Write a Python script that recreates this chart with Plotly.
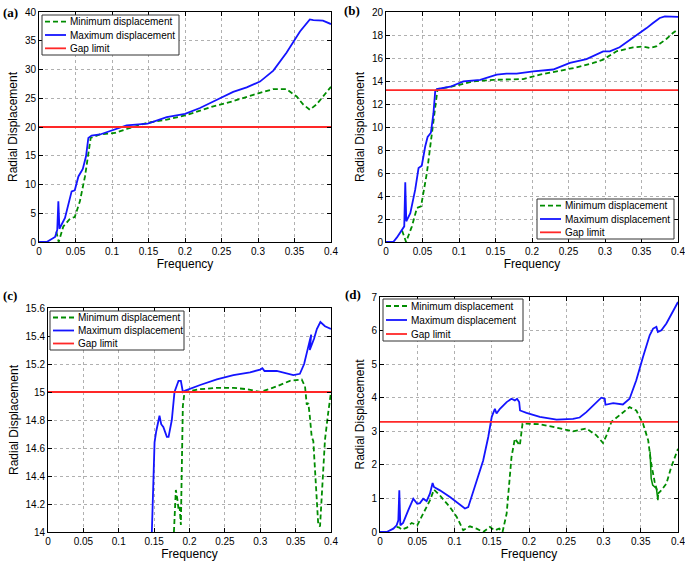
import plotly.graph_objects as go

# ---------------- data ----------------
xa_max = [0, 0.0105, 0.022, 0.025, 0.0265, 0.028, 0.0356, 0.0447, 0.049, 0.054, 0.06, 0.0644, 0.0676, 0.072,
          0.0836, 0.1018, 0.12, 0.149, 0.175, 0.2, 0.2205, 0.248, 0.266, 0.2845, 0.3027, 0.321, 0.339, 0.3575,
          0.371, 0.3758, 0.389, 0.4]
ya_max = [0, 0, 0.87, 2.1, 7.1, 2.3, 4.2, 8.8, 9.0, 11.4, 12.7, 14.9, 18.1, 18.5,
          18.7, 19.5, 20.3, 20.6, 21.7, 22.3, 23.3, 25.0, 26.1, 26.9, 27.9, 29.8, 32.9, 36.6,
          38.7, 38.6, 38.5, 37.9]
xa_min = [0.0237, 0.027, 0.0333, 0.0425, 0.049, 0.056, 0.063, 0.0708, 0.0836, 0.104, 0.12, 0.1475, 0.175, 0.2,
          0.2388, 0.266, 0.2936, 0.321, 0.339, 0.353, 0.362, 0.371, 0.38, 0.389, 0.4]
ya_min = [1.8, 0, 2.7, 4.06, 4.35, 7.07, 11.4, 18.1, 18.7, 18.96, 19.65, 20.7, 21.3, 22.0,
          23.6, 24.5, 25.6, 26.6, 26.6, 25.3, 23.9, 23.0, 23.9, 25.3, 27.0]
gap_a = 20.0

xb_max = [0, 0.01, 0.015, 0.0219, 0.025, 0.0264, 0.0278, 0.0333, 0.04, 0.0446, 0.049, 0.0537, 0.057, 0.0615,
          0.065, 0.0674, 0.0697, 0.088, 0.106, 0.129, 0.1517, 0.165, 0.179, 0.2018, 0.229, 0.252, 0.2747,
          0.2975, 0.3066, 0.32, 0.3385, 0.357, 0.3658, 0.375, 0.382, 0.391, 0.4]
yb_max = [0, 0, 0.4, 1.07, 1.36, 5.19, 1.8, 2.5, 4.55, 6.43, 6.64, 8.3, 9.13, 9.5,
          11.2, 13.1, 13.3, 13.5, 13.97, 14.1, 14.55, 14.64, 14.64, 14.84, 15.0, 15.57, 15.9,
          16.58, 16.58, 16.93, 17.74, 18.6, 19.04, 19.48, 19.62, 19.57, 19.57]
xb_min = [0.022, 0.0275, 0.0355, 0.0424, 0.048, 0.056, 0.063, 0.0706, 0.088, 0.12, 0.147, 0.188, 0.211, 0.257,
          0.284, 0.2975, 0.3157, 0.3385, 0.352, 0.361, 0.37, 0.384, 0.393, 0.4]
yb_min = [1.0, 0, 1.36, 2.96, 3.1, 6.0, 9.5, 13.3, 13.48, 13.97, 14.1, 14.17, 14.55, 15.13,
          15.57, 15.86, 16.58, 16.93, 17.0, 16.87, 17.0, 17.65, 18.17, 18.5]
gap_b = 13.2

xc_max = [0.1468, 0.149, 0.1506, 0.153, 0.1576, 0.16, 0.163, 0.168, 0.1704, 0.175, 0.1788, 0.1845, 0.1878,
          0.1906, 0.194, 0.215, 0.2386, 0.262, 0.2856, 0.2998, 0.303, 0.306, 0.3233, 0.3468, 0.356, 0.362,
          0.367, 0.372, 0.370, 0.376, 0.380, 0.385, 0.3915, 0.4]
yc_max = [14.0, 14.42, 14.64, 14.72, 14.83, 14.77, 14.75, 14.68, 14.68, 14.80, 15.0, 15.08, 15.08,
          15.0, 15.01, 15.05, 15.09, 15.12, 15.14, 15.16, 15.17, 15.15, 15.15, 15.12, 15.13, 15.2,
          15.30, 15.41, 15.30, 15.38, 15.45, 15.50, 15.47, 15.45]
xc_min = [0.178, 0.1807, 0.183, 0.1845, 0.186, 0.1878, 0.189, 0.1906, 0.193, 0.215, 0.2386, 0.262, 0.281,
          0.30, 0.3233, 0.342, 0.3586, 0.3633, 0.3657, 0.368, 0.370, 0.3727, 0.375, 0.3774, 0.3798, 0.382,
          0.3845, 0.3868, 0.3915, 0.396, 0.4]
yc_min = [14.0, 14.3, 14.23, 14.16, 14.18, 14.05, 14.42, 14.9, 15.0, 15.02, 15.03, 15.03, 15.02,
          15.0, 15.04, 15.08, 15.09, 15.04, 14.91, 14.92, 14.83, 14.68, 14.65, 14.47, 14.25, 14.05,
          14.04, 14.25, 14.66, 14.85, 15.0]
gap_c = 15.0

xd_max = [0, 0.009, 0.0179, 0.0223, 0.0246, 0.0259, 0.0273, 0.031, 0.038, 0.0447, 0.05, 0.0536, 0.058, 0.0626,
          0.067, 0.0706, 0.0724, 0.0804, 0.0939, 0.107, 0.114, 0.1184, 0.127, 0.1385, 0.1453, 0.15, 0.1542,
          0.1564, 0.161, 0.17, 0.1765, 0.181, 0.184, 0.1868, 0.188, 0.1966, 0.2145, 0.237, 0.259, 0.268,
          0.277, 0.286, 0.297, 0.3017, 0.3026, 0.313, 0.326, 0.335, 0.344, 0.353, 0.362, 0.3666, 0.371,
          0.373, 0.3777, 0.3844, 0.393, 0.4]
yd_max = [0, 0, 0.1, 0.2, 0.35, 1.24, 0.2, 0.27, 0.65, 0.99, 0.84, 0.86, 0.99, 0.92,
          1.14, 1.46, 1.34, 1.24, 1.04, 0.82, 0.7, 0.74, 1.34, 2.13, 2.83, 3.43, 3.67,
          3.53, 3.67, 3.87, 3.97, 3.92, 3.97, 3.87, 3.62, 3.55, 3.43, 3.35, 3.37, 3.41,
          3.57, 3.77, 4.0, 3.97, 3.79, 3.84, 3.80, 3.97, 4.52, 5.21, 5.86, 6.06, 6.11,
          5.96, 6.01, 6.21, 6.55, 6.85]
xd_min = [0.0223, 0.026, 0.029, 0.036, 0.0425, 0.05, 0.058, 0.067, 0.0724, 0.0804, 0.0939, 0.103, 0.1117,
          0.1207, 0.1296, 0.1385, 0.1475, 0.154, 0.16, 0.1645, 0.17, 0.1765, 0.181, 0.1855, 0.1877, 0.1913,
          0.1966, 0.2145, 0.237, 0.259, 0.277, 0.2905, 0.2994, 0.304, 0.3106, 0.322, 0.335, 0.344, 0.353,
          0.36, 0.364, 0.3687, 0.373, 0.3777, 0.3844, 0.391, 0.4]
yd_min = [0.15, 0.13, 0.07, 0.13, 0.27, 0.2, 0.55, 0.94, 1.26, 1.09, 0.74, 0.45, 0.05,
          0.17, 0.1, 0.0, 0.15, 0.05, 0.1, 0.0, 0.55, 2.23, 2.78, 2.63, 2.58, 3.23,
          3.23, 3.21, 3.11, 3.0, 3.08, 2.88, 2.65, 2.88, 3.28, 3.48, 3.72, 3.62, 3.23,
          2.73, 2.04, 1.49, 1.14, 1.24, 1.44, 1.94, 2.48]
xd_minsolid = [0.3625, 0.364, 0.366, 0.369, 0.371, 0.373, 0.3735]
yd_minsolid = [2.4, 1.6, 1.4, 1.35, 1.3, 0.95, 1.1]
gap_d = 3.28

x_ticks = [0, 0.05, 0.1, 0.15, 0.2, 0.25, 0.3, 0.35, 0.4]
x_ticktext = ["0", "0.05", "0.1", "0.15", "0.2", "0.25", "0.3", "0.35", "0.4"]
ya_ticks = [0, 5, 10, 15, 20, 25, 30, 35, 40]
yb_ticks = [0, 2, 4, 6, 8, 10, 12, 14, 16, 18, 20]
yc_ticks = [14, 14.2, 14.4, 14.6, 14.8, 15, 15.2, 15.4, 15.6]
yc_ticktext = ["14", "14.2", "14.4", "14.6", "14.8", "15", "15.2", "15.4", "15.6"]
yd_ticks = [0, 1, 2, 3, 4, 5, 6, 7]

names = ["Minimum displacement", "Maximum displacement", "Gap limit"]
panel_labels = ["(a)", "(b)", "(c)", "(d)"]

GREEN = "rgb(0,140,0)"
BLUE = "rgb(20,20,255)"
RED = "rgb(255,40,40)"
DASH = "5px,3px"
FONT = "Liberation Sans, Arial, sans-serif"

W, H = 685, 564

def dom_x(a, b):
    return [a / W, b / W]

def dom_y(top, bottom):
    return [1 - bottom / H, 1 - top / H]

# legend boxes in pixels: (left, top, right, bottom)
panels = [
    dict(xd=dom_x(39, 331), yd=dom_y(12, 242), yr=[0, 40], yt=ya_ticks, ytt=None,
         xmax=xa_max, ymax=ya_max, xmin=xa_min, ymin=ya_min, gap=gap_a,
         box=(42, 15, 179, 55)),
    dict(xd=dom_x(386, 678), yd=dom_y(12, 242), yr=[0, 20], yt=yb_ticks, ytt=None,
         xmax=xb_max, ymax=yb_max, xmin=xb_min, ymin=yb_min, gap=gap_b,
         box=(537, 199, 674, 239)),
    dict(xd=dom_x(48, 331), yd=dom_y(308, 532), yr=[14, 15.6], yt=yc_ticks, ytt=yc_ticktext,
         xmax=xc_max, ymax=yc_max, xmin=xc_min, ymin=yc_min, gap=gap_c,
         box=(50, 311, 184, 350)),
    dict(xd=dom_x(380, 678), yd=dom_y(297, 532), yr=[0, 7], yt=yd_ticks, ytt=None,
         xmax=xd_max, ymax=yd_max, xmin=xd_min, ymin=yd_min, gap=gap_d,
         box=(383, 299, 523, 341)),
]

fig = go.Figure()
layout = dict(width=W, height=H, margin=dict(l=0, r=0, t=0, b=0, autoexpand=False),
              paper_bgcolor="white", plot_bgcolor="white", showlegend=False,
              font=dict(family=FONT, size=10, color="black"))
annotations = []
shapes = []
label_pos = [(1, 12), (342, 11), (1, 295), (343, 294)]
styles = [dict(color=GREEN, width=1.8, dash=DASH), dict(color=BLUE, width=1.8),
          dict(color=RED, width=1.8)]

def px(x):
    return x / W

def py(y):
    return 1 - y / H

for i, p in enumerate(panels):
    n = "" if i == 0 else str(i + 1)
    xa = "x" + n
    ya = "y" + n
    fig.add_trace(go.Scatter(x=p["xmin"], y=p["ymin"], mode="lines", name=names[0],
                             line=styles[0], xaxis=xa, yaxis=ya))
    fig.add_trace(go.Scatter(x=p["xmax"], y=p["ymax"], mode="lines", name=names[1],
                             line=styles[1], xaxis=xa, yaxis=ya))
    fig.add_trace(go.Scatter(x=[x_ticks[0], x_ticks[-1]], y=[p["gap"], p["gap"]], mode="lines",
                             name=names[2], line=styles[2], xaxis=xa, yaxis=ya))
    if i == 3:
        fig.add_trace(go.Scatter(x=xd_minsolid, y=yd_minsolid, mode="lines", name=names[0],
                                 line=dict(color=GREEN, width=1.5), xaxis=xa, yaxis=ya))
    common = dict(showline=True, linecolor="black", linewidth=1, mirror="ticks",
                  ticks="inside", ticklen=4, tickcolor="black", automargin=False,
                  ticklabeloverflow="allow",
                  showgrid=True, gridcolor="#b0b0b0", griddash="dot", gridwidth=1,
                  zeroline=False, tickfont=dict(family=FONT, size=10, color="black"))
    layout["xaxis" + n] = dict(domain=p["xd"], range=[0, 0.4], anchor=ya,
                               tickvals=x_ticks, ticktext=x_ticktext,
                               title=dict(text="Frequency", standoff=3,
                                          font=dict(family=FONT, size=12)),
                               **common)
    yextra = dict(tickvals=p["yt"])
    if p["ytt"] is not None:
        yextra["ticktext"] = p["ytt"]
    layout["yaxis" + n] = dict(domain=p["yd"], range=p["yr"], anchor=xa,
                               title=dict(text="Radial Displacement", standoff=4,
                                          font=dict(family=FONT, size=12)),
                               **yextra, **common)
    # legend box
    l, t, r, b = p["box"]
    shapes.append(dict(type="rect", xref="paper", yref="paper", x0=px(l), x1=px(r),
                       y0=py(b), y1=py(t), fillcolor="white",
                       line=dict(color="#333333", width=1), layer="above"))
    rowh = (b - t) / 3.0
    for k in range(3):
        yy = t + rowh * (k + 0.5)
        shapes.append(dict(type="line", xref="paper", yref="paper", x0=px(l + 3), x1=px(l + 24),
                           y0=py(yy), y1=py(yy), line=styles[k], layer="above"))
        annotations.append(dict(text=names[k], x=px(l + 26), y=py(yy), xref="paper", yref="paper",
                                xanchor="left", yanchor="middle", showarrow=False,
                                font=dict(family=FONT, size=10, color="black")))
    lx, ly = label_pos[i]
    annotations.append(dict(text="<b>" + panel_labels[i] + "</b>", x=lx / W, y=1 - ly / H,
                            xref="paper", yref="paper", xanchor="left", yanchor="middle",
                            showarrow=False,
                            font=dict(family="Liberation Serif, Times New Roman, serif",
                                      size=13, color="black")))

layout["annotations"] = annotations
layout["shapes"] = shapes
fig.update_layout(**layout)
fig.write_html("out.html", config={"displayModeBar": False},
               post_script="document.body.style.margin='0px';document.body.style.padding='0px';")
